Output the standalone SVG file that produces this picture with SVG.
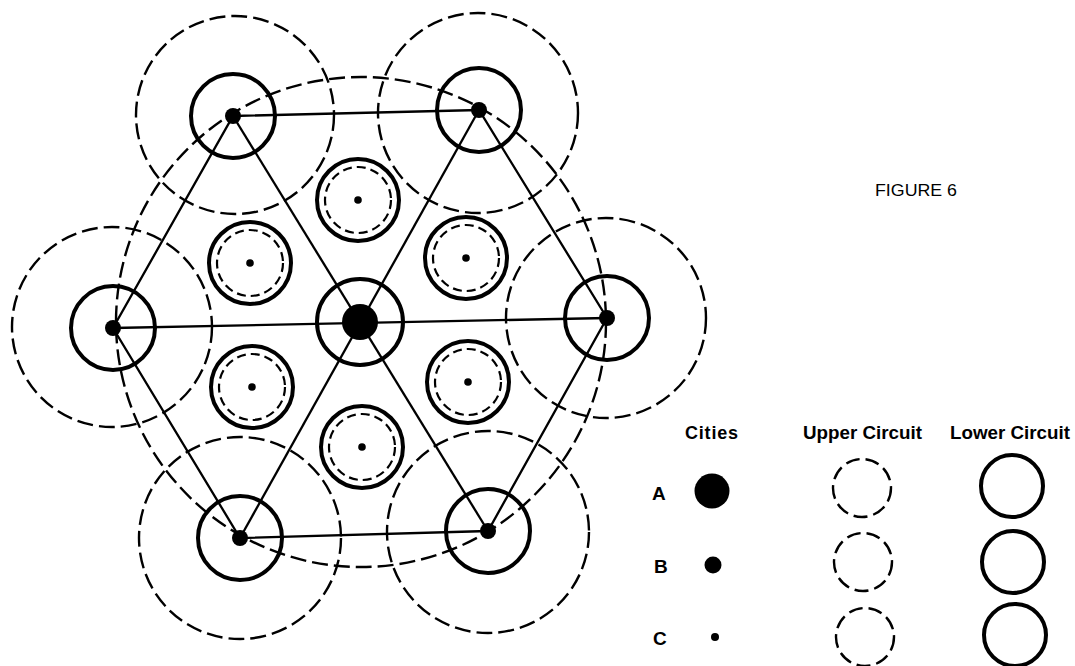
<svg xmlns="http://www.w3.org/2000/svg" width="1075" height="666" viewBox="0 0 1075 666">
<style>
.lo{fill:none;stroke:#000;stroke-width:4}
.up{fill:none;stroke:#000;stroke-width:2.4;stroke-dasharray:16 6}
.upc{fill:none;stroke:#000;stroke-width:2.2;stroke-dasharray:9 5}
.upl{fill:none;stroke:#000;stroke-width:2.4;stroke-dasharray:14 6}
.ln{stroke:#000;stroke-width:2.3;fill:none}
.lbl{font-family:"Liberation Sans",Arial,sans-serif;font-weight:bold;font-size:18px;fill:#000}
.let{font-family:"Liberation Sans",Arial,sans-serif;font-weight:bold;font-size:19px;fill:#000}
</style>
<rect width="1075" height="666" fill="#fff"/>
<g id="connectors">
<polygon class="ln" points="233,116 479,110 607,318 488,531 240,538 113,328"/>
<line class="ln" x1="233" y1="116" x2="488" y2="531"/>
<line class="ln" x1="479" y1="110" x2="240" y2="538"/>
<line class="ln" x1="113" y1="328" x2="607" y2="318"/>
</g>
<g id="circuit-A-upper"><circle class="up" cx="361" cy="322" r="245"/></g>
<g id="node-A">
<circle class="lo" cx="360" cy="322" r="43"/>
<circle cx="360" cy="322" r="18" fill="#000"/>
</g>
<g id="node-B1"><circle class="up" cx="235" cy="115" r="99"/><circle class="lo" cx="233" cy="116" r="42"/><circle cx="233" cy="116" r="8"/></g>
<g id="node-B2"><circle class="up" cx="478" cy="113" r="100"/><circle class="lo" cx="479" cy="110" r="42"/><circle cx="479" cy="110" r="8"/></g>
<g id="node-B3"><circle class="up" cx="112" cy="327" r="100"/><circle class="lo" cx="113" cy="328" r="42"/><circle cx="113" cy="328" r="8"/></g>
<g id="node-B4"><circle class="up" cx="606" cy="318" r="100"/><circle class="lo" cx="607" cy="318" r="42"/><circle cx="607" cy="318" r="8"/></g>
<g id="node-B5"><circle class="up" cx="240" cy="538" r="101"/><circle class="lo" cx="240" cy="538" r="42"/><circle cx="240" cy="538" r="8"/></g>
<g id="node-B6"><circle class="up" cx="488" cy="532" r="101"/><circle class="lo" cx="488" cy="531" r="42"/><circle cx="488" cy="531" r="8"/></g>
<g id="node-C1"><circle class="lo" cx="358" cy="200" r="41"/><circle class="upc" cx="358" cy="200" r="33"/><circle cx="358" cy="200" r="3.8"/></g>
<g id="node-C2"><circle class="lo" cx="250" cy="263" r="41"/><circle class="upc" cx="250" cy="263" r="33"/><circle cx="250" cy="263" r="3.8"/></g>
<g id="node-C3"><circle class="lo" cx="466" cy="258" r="41"/><circle class="upc" cx="466" cy="258" r="33"/><circle cx="466" cy="258" r="3.8"/></g>
<g id="node-C4"><circle class="lo" cx="252" cy="387" r="41"/><circle class="upc" cx="252" cy="387" r="33"/><circle cx="252" cy="387" r="3.8"/></g>
<g id="node-C5"><circle class="lo" cx="468" cy="382" r="41"/><circle class="upc" cx="468" cy="382" r="33"/><circle cx="468" cy="382" r="3.8"/></g>
<g id="node-C6"><circle class="lo" cx="362" cy="447" r="41"/><circle class="upc" cx="362" cy="447" r="33"/><circle cx="362" cy="447" r="3.8"/></g>
<g id="title"><text x="875" y="196" font-family="'Liberation Sans',Arial,sans-serif" font-size="17" textLength="82" lengthAdjust="spacingAndGlyphs">FIGURE 6</text></g>
<g id="legend">
<text class="lbl" x="685" y="439" textLength="53" lengthAdjust="spacing">Cities</text>
<text class="lbl" x="803" y="439" textLength="119" lengthAdjust="spacingAndGlyphs">Upper Circuit</text>
<text class="lbl" x="950" y="439" textLength="120" lengthAdjust="spacingAndGlyphs">Lower Circuit</text>
<text class="let" x="652" y="500">A</text>
<text class="let" x="654" y="573">B</text>
<text class="let" x="653" y="645">C</text>
<circle cx="712" cy="491" r="17.5"/>
<circle cx="713" cy="565" r="8.5"/>
<circle cx="715" cy="637" r="4"/>
<circle class="upl" cx="862" cy="488" r="29"/>
<circle class="upl" cx="863" cy="562" r="29"/>
<circle class="upl" cx="865" cy="637" r="29"/>
<circle class="lo" cx="1012" cy="486" r="31"/>
<circle class="lo" cx="1013" cy="562" r="31"/>
<circle class="lo" cx="1015" cy="635" r="31"/>
</g>
</svg>
